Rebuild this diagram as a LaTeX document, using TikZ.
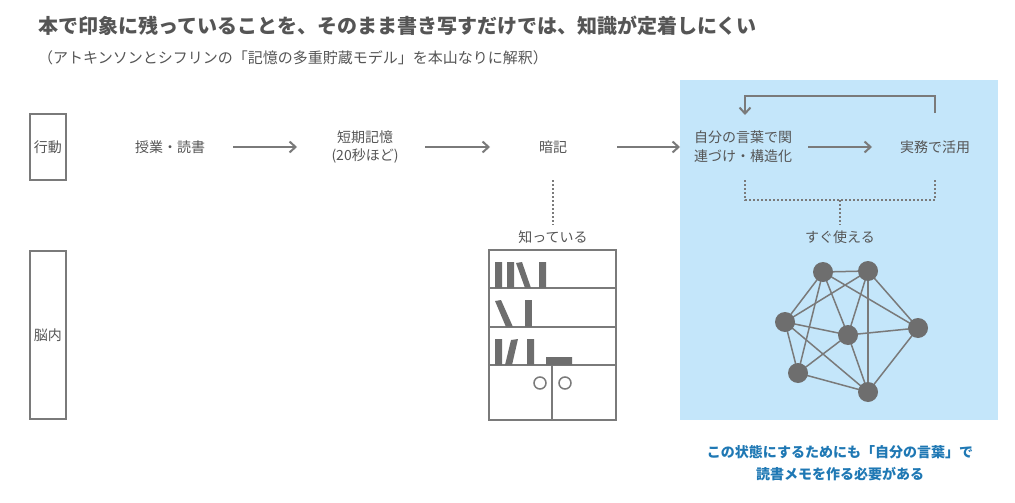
\documentclass[tikz,border=0pt]{standalone}
\usepackage{fontspec}
\usetikzlibrary{arrows.meta}
\setmainfont{Noto Sans CJK JP}
\definecolor{tx}{HTML}{555555}
\definecolor{ln}{HTML}{7A7A7A}
\definecolor{bk}{HTML}{6E6E6E}
\definecolor{bg}{HTML}{C4E6FA}
\definecolor{bl}{HTML}{1F78B4}
\begin{document}
\begin{tikzpicture}[x=1pt,y=-1pt,
  lbl/.style={text=tx,font=\fontsize{14}{17}\selectfont,align=center,inner sep=1pt},
  arr/.style={ln,line width=2pt,-{Straight Barb[length=6pt,width=11pt]}},
  dot/.style={ln,line width=2pt,dotted},
  box/.style={draw=ln,line width=2pt},
  bkk/.style={fill=bk,draw=none},
  nd/.style={circle,fill=bk,minimum size=20pt,inner sep=0pt}]
\useasboundingbox (0,0) rectangle (1015,503);
\fill[bg] (680,80) rectangle (998,420);
\node[anchor=west,text=tx,font=\fontsize{20}{24}\bfseries\selectfont,inner sep=0pt] (t) at (38,26) {本で印象に残っていることを、そのまま書き写すだけでは、知識が定着しにくい};
\node[anchor=west,text=tx,font=\fontsize{15}{18}\selectfont,inner sep=0pt] (s) at (38,58) {（アトキンソンとシフリンの「記憶の多重貯蔵モデル」を本山なりに解釈）};
\node[box,minimum width=36pt,minimum height=66pt,lbl] (a) at (48,147) {行動};
\node[box,minimum width=36pt,minimum height=168pt,lbl] (n) at (48,335) {脳内};
\node[lbl] (p1) at (170,147) {授業・読書};
\node[lbl,font=\fontsize{14}{18}\selectfont] (p2) at (365,147) {短期記憶\\(20秒ほど)};
\node[lbl] (p3) at (553,147) {暗記};
\node[lbl,align=left,font=\fontsize{14}{19}\selectfont] (p4) at (743,147) {自分の言葉で関\\連づけ・構造化};
\node[lbl] (p5) at (935,147) {実務で活用};
\draw[arr] (233,147) -- (297,147);
\draw[arr] (425,147) -- (490,147);
\draw[arr] (617,147) -- (680,147);
\draw[arr] (808,147) -- (872,147);
\coordinate (f1) at (935,113);
\coordinate (f2) at (935,96);
\coordinate (f3) at (745,96);
\coordinate (f4) at (745,115);
\draw[arr] (f1) -- (f2) -- (f3) -- (f4);
\draw[dot] (553,180) -- (553,225);
\node[lbl] (k) at (553,237) {知っている};
\draw[dot] (745,180) -- (745,200) -- (935,200) -- (935,180);
\draw[dot] (840,200) -- (840,225);
\node[lbl] (u) at (840,237) {すぐ使える};
% bookshelf
\draw[box] (489,250) rectangle (616,420);
\draw[box] (489,288) -- (616,288) (489,327) -- (616,327) (489,365) -- (616,365) (552,365) -- (552,420);
\draw[ln,line width=1.5pt] (540,383) circle (6) (565,383) circle (6);
\fill[bkk] (495,262) rectangle (502,288) (507,262) rectangle (514,288) (539,262) rectangle (546,288);
\fill[bkk] (516,263) -- (522,262) -- (531,288) -- (525,288) -- cycle;
\fill[bkk] (495,301) -- (501,300) -- (513,327) -- (506,327) -- cycle;
\fill[bkk] (525,300) rectangle (532,327);
\fill[bkk] (495,339) rectangle (502,365) (527,339) rectangle (534,365) (546,357) rectangle (572,365);
\fill[bkk] (511,340) -- (518,339) -- (512,365) -- (505,365) -- cycle;
% network
\foreach \n/\x/\y in {A/823/272,B/868/271,C/785/322,D/848/335,E/918/328,F/798/373,G/868/392}
  \coordinate (\n) at (\x,\y);
\foreach \p/\q in {A/B,A/C,A/D,A/F,A/E,B/C,B/D,B/G,B/E,C/D,C/F,C/G,D/E,D/F,D/G,F/G,G/E}
  \draw[ln,line width=1.5pt] (\p) -- (\q);
\foreach \n in {A,B,C,D,E,F,G} \node[nd] (n\n) at (\n) {};
\node[text=bl,font=\fontsize{14}{22}\bfseries\selectfont,align=center] (b) at (840,463) {この状態にするためにも「自分の言葉」で\\読書メモを作る必要がある};
\end{tikzpicture}
\end{document}
